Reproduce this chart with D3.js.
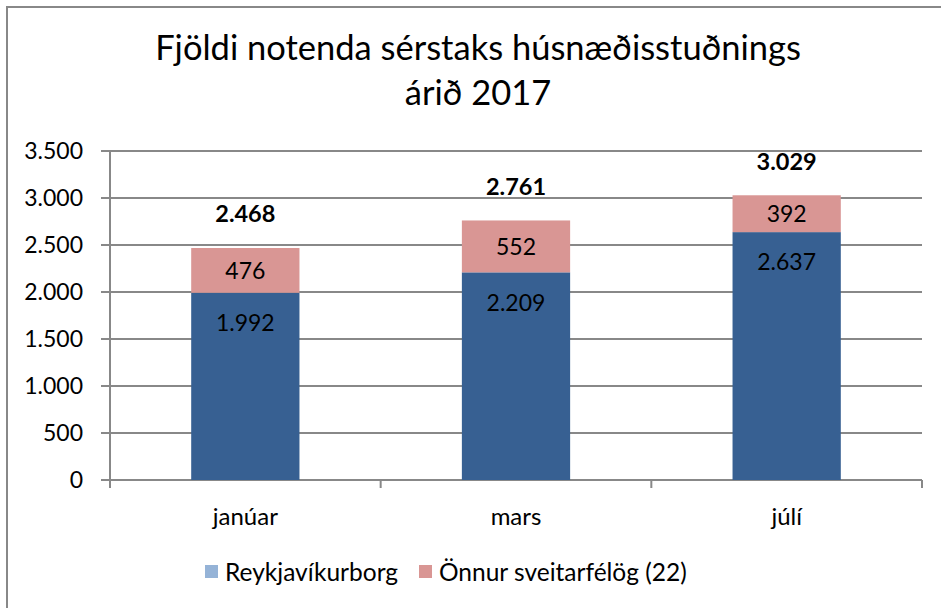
<!DOCTYPE html>
<html><head><meta charset="utf-8">
<script src="https://cdn.jsdelivr.net/npm/d3@7"></script>
<style>body{margin:0;background:#fff}svg{display:block}text{font-family:Lato,"Noto Sans",sans-serif;fill:#000}</style>
</head><body><svg id="c" width="941" height="608"></svg>
<script>
const categories = ["janúar","mars","júlí"];
const reykjavik = [1992, 2209, 2637];
const onnur = [476, 552, 392];
const totals = [2468, 2761, 3029];
const seriesNames = ["Reykjavíkurborg","Önnur sveitarfélög (22)"];
const yTicks = [0,500,1000,1500,2000,2500,3000,3500];
const titleLines = ["Fjöldi notenda sérstaks húsnæðisstuðnings","árið 2017"];

const svg = d3.select("#c");
const fmt = v => d3.format(",")(v).replace(/,/g,".");
const L=110,R=922,T=151,B=480;
svg.append("rect").attr("x",7).attr("y",7).attr("width",960).attr("height",640).attr("fill","none").attr("stroke","#888").attr("stroke-width",2);

const x = d3.scaleBand().domain(categories).range([L,R]).paddingInner(0.6).paddingOuter(0.3);
const y = d3.scaleLinear().domain([0,3500]).range([B,T]);

svg.append("g").selectAll("line").data(yTicks).join("line")
  .attr("x1",L-9).attr("x2",R).attr("y1",d=>y(d)).attr("y2",d=>y(d))
  .attr("stroke","#888").attr("stroke-width",2);
svg.append("line").attr("x1",L).attr("x2",L).attr("y1",T).attr("y2",B+7).attr("stroke","#888").attr("stroke-width",2);
const step = x.step();
svg.append("g").selectAll("line").data(d3.range(categories.length+1)).join("line")
  .attr("x1",d=>L+d*step).attr("x2",d=>L+d*step).attr("y1",B).attr("y2",B+8)
  .attr("stroke","#888").attr("stroke-width",2);

svg.append("g").selectAll("text").data(yTicks).join("text")
  .attr("x",83).attr("y",d=>y(d)).attr("dy","0.36em").attr("text-anchor","end")
  .style("font-size","23px").text(d=>fmt(d));

svg.append("g").selectAll("text").data(categories).join("text")
  .attr("x",d=>x(d)+x.bandwidth()/2).attr("y",525).attr("text-anchor","middle")
  .style("font-size","24px").text(d=>d);

const stack = categories.map((c,i)=>({c, r:reykjavik[i], o:onnur[i], t:totals[i]}));
const g = svg.append("g");
g.selectAll("rect.r").data(stack).join("rect").attr("class","r")
  .attr("x",d=>x(d.c)).attr("width",x.bandwidth())
  .attr("y",d=>y(d.r)).attr("height",d=>y(0)-y(d.r)).attr("fill","#376092");
g.selectAll("rect.o").data(stack).join("rect").attr("class","o")
  .attr("x",d=>x(d.c)).attr("width",x.bandwidth())
  .attr("y",d=>y(d.r+d.o)).attr("height",d=>y(d.r)-y(d.r+d.o)).attr("fill","#D99694");

g.selectAll("text.rl").data(stack).join("text")
  .attr("x",d=>x(d.c)+x.bandwidth()/2).attr("y",d=>y(d.r)+30).attr("dy","0.36em")
  .attr("text-anchor","middle").style("font-size","23px").text(d=>fmt(d.r));
g.selectAll("text.ol").data(stack).join("text")
  .attr("x",d=>x(d.c)+x.bandwidth()/2).attr("y",d=>(y(d.r)+y(d.r+d.o))/2).attr("dy","0.36em")
  .attr("text-anchor","middle").style("font-size","23px").text(d=>fmt(d.o));
g.selectAll("text.tl").data(stack).join("text")
  .attr("x",d=>x(d.c)+x.bandwidth()/2).attr("y",d=>y(d.t)-34).attr("dy","0.36em")
  .attr("text-anchor","middle").style("font-size","23.5px").style("font-weight","bold").text(d=>fmt(d.t));

svg.selectAll("text.title").data(titleLines).join("text").attr("class","title")
  .attr("x",478).attr("y",(d,i)=>60+i*45).attr("text-anchor","middle")
  .style("font-size","34.5px").text(d=>d);

const colsLeg = ["#95B3D7","#D99694"];
const lx=[205,419];
const leg = svg.append("g");
leg.selectAll("rect").data(seriesNames).join("rect")
  .attr("x",(d,i)=>lx[i]).attr("y",565).attr("width",13).attr("height",13).attr("fill",(d,i)=>colsLeg[i]);
leg.selectAll("text").data(seriesNames).join("text")
  .attr("x",(d,i)=>lx[i]+20).attr("y",572).attr("dy","0.36em")
  .style("font-size","24.5px").text(d=>d);
</script></body></html>
